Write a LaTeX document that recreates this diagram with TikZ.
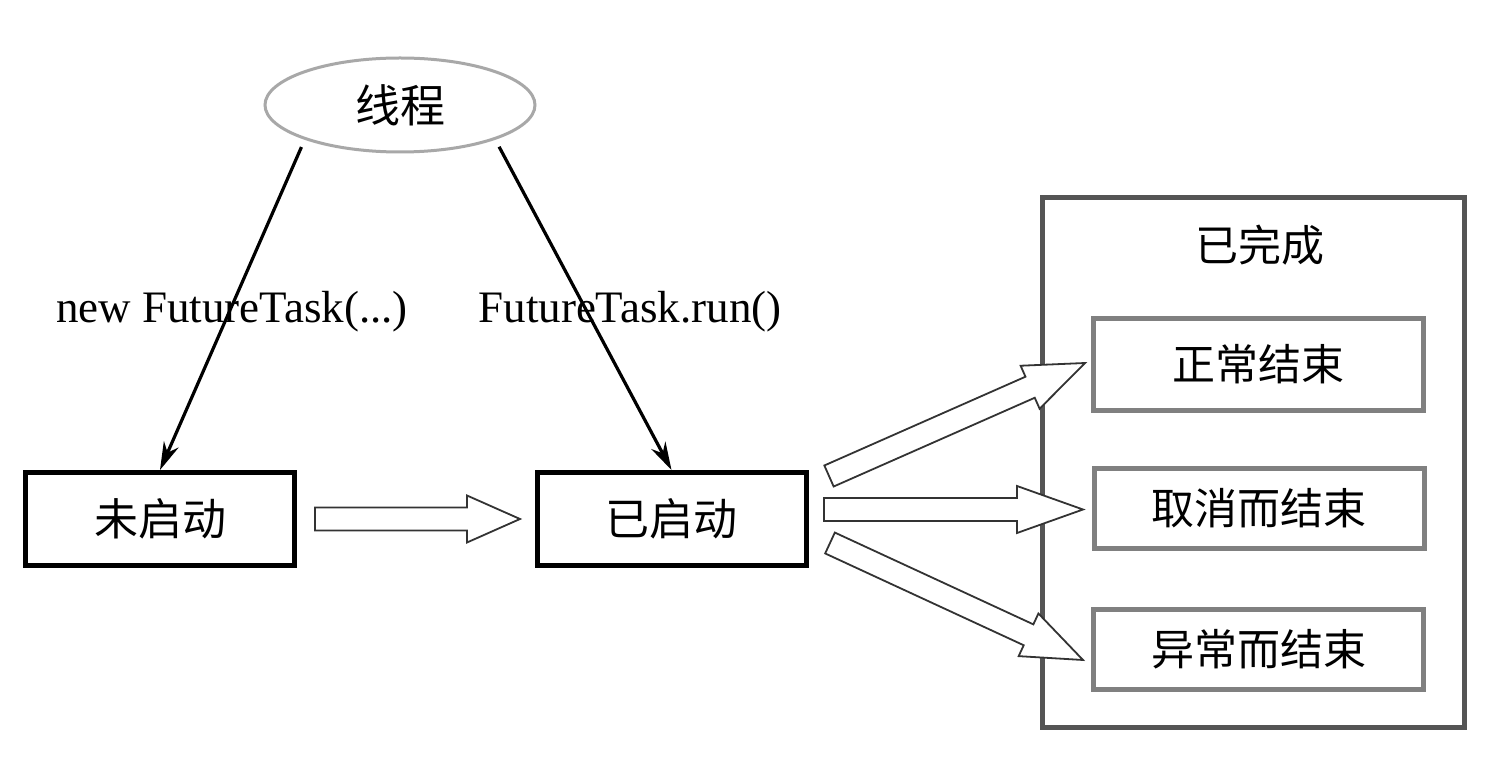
\documentclass[tikz,border=0pt]{standalone}
\usepackage{fontspec}
\setmainfont{Liberation Serif}
\newfontfamily\cjk{Noto Sans CJK SC}
\usetikzlibrary{shapes.geometric,arrows.meta,calc}
\definecolor{ellgray}{HTML}{A8A8A8}
\definecolor{outgray}{HTML}{555555}
\definecolor{ingray}{HTML}{808080}
\definecolor{arrgray}{HTML}{333333}
\newcommand\hollowarrow[3]{%
  \path let \p1=($(#2)-(#1)$), \n1={atan2(\y1,\x1)}, \n2={veclen(\x1,\y1)} in
    \pgfextra{\xdef\harang{\n1}\xdef\harlen{\n2}};
  \draw[hollowstyle, shift={(#1)}, rotate=\harang]
    (0,-11.5) -- ({\harlen-#3},-11.5) -- ({\harlen-#3},-23.5) -- (\harlen,0)
    -- ({\harlen-#3},23.5) -- ({\harlen-#3},11.5) -- (0,11.5) -- cycle;
}
\tikzset{
  hollowstyle/.style={draw=arrgray, line width=1.8pt, fill=white, line join=miter},
  blackbox/.style={draw=black, line width=5pt, minimum width=269pt, minimum height=93pt, font=\cjk\fontsize{44}{52}\selectfont},
  graybox/.style={draw=ingray, line width=5pt, minimum width=330pt, font=\cjk\fontsize{43}{51}\selectfont},
  label/.style={font=\fontsize{45}{54}\selectfont},
  thinarrow/.style={draw=black, line width=3.2pt, shorten <=8pt, -{Stealth[length=28pt,width=16pt]}},
}
\begin{document}
\begin{tikzpicture}[x=1pt,y=1pt]
\useasboundingbox[fill=white] (0,0) rectangle (1504,756);
\node[ellipse, draw=ellgray, line width=3pt, minimum width=270pt, minimum height=94pt, font=\cjk\fontsize{45}{54}\selectfont] (th) at (400,651) {线程};
\node[blackbox] (wq) at (160,237) {未启动};
\node[blackbox] (yq) at (671.5,237) {已启动};
\node[draw=outgray, line width=5pt, minimum width=422pt, minimum height=530pt] (done) at (1253.5,293.5) {};
\node[font=\cjk\fontsize{43}{51}\selectfont] (donelbl) at (1260,511) {已完成};
\node[graybox, minimum height=92pt] (n1) at (1258.5,391.5) {正常结束};
\node[graybox, minimum height=80pt] (n2) at (1259,247.5) {取消而结束};
\node[graybox, minimum height=80pt] (n3) at (1258.5,106.5) {异常而结束};
\draw[thinarrow] (th.200) -- (wq.north);
\draw[thinarrow] (th.340) -- (yq.north);
\node[label] (l1) at (232,444) {new FutureTask(...)};
\node[label] (l2) at (630,444) {FutureTask.run()};
\coordinate (a1s) at (315,237);
\coordinate (a1e) at (520,237);
\coordinate (a2s) at (829,280);
\coordinate (a2e) at (1085,393);
\coordinate (a3s) at (824,246.5);
\coordinate (a3e) at (1083,246.5);
\coordinate (a4s) at (830,213);
\coordinate (a4e) at (1083,96);
\hollowarrow{a1s}{a1e}{53}
\hollowarrow{a2s}{a2e}{60}
\hollowarrow{a3s}{a3e}{66}
\hollowarrow{a4s}{a4e}{60}
\end{tikzpicture}
\end{document}
